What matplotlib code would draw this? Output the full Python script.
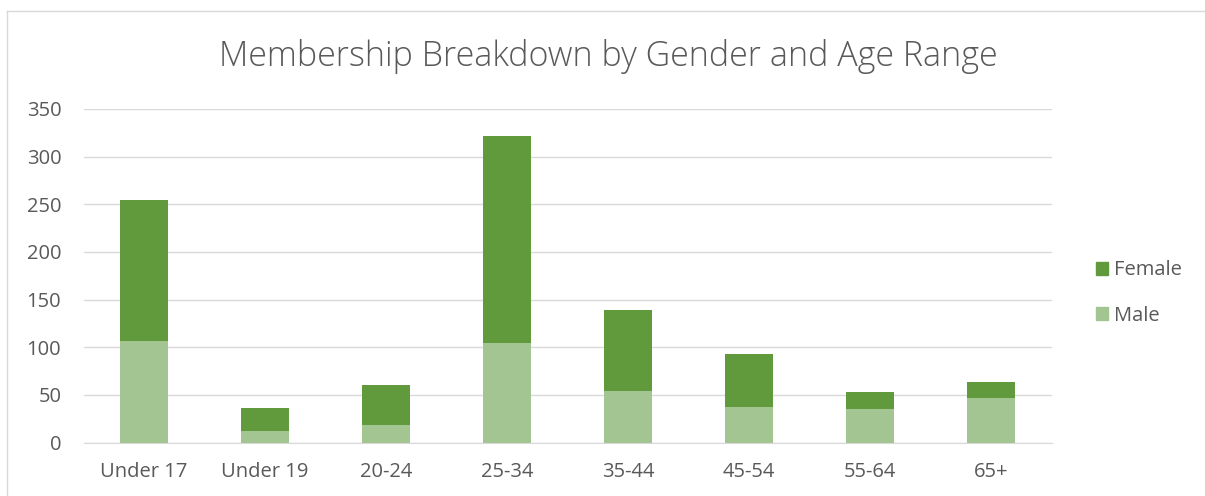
import matplotlib.pyplot as plt
import numpy as np
from matplotlib.patches import Rectangle
from matplotlib.lines import Line2D

# Datos
age_ranges = ["Under 17", "Under 19", "20-24", "25-34", "35-44", "45-54", "55-64", "65+"]
male = [107, 12, 18, 104, 54, 37, 35, 47]
female = [148, 24, 42, 218, 85, 56, 18, 16]

FEMALE_COL = "#619A3D"
MALE_COL = "#A3C591"
TXT = "#595959"

plt.rcParams["font.family"] = ["Open Sans", "DejaVu Sans"]

fig = plt.figure(figsize=(12.05, 4.96), dpi=100)
ax = fig.add_axes([83.5 / 1205, 1 - 442.5 / 496, (1051.5 - 83.5) / 1205, (442.5 - 109) / 496])

x = np.arange(len(age_ranges))
ax.bar(x, male, width=0.4, color=MALE_COL, label="Male", zorder=3)
ax.bar(x, female, width=0.4, bottom=male, color=FEMALE_COL, label="Female", zorder=3)

ax.set_xlim(-0.5, len(age_ranges) - 0.5)
ax.set_ylim(0, 350)
ax.set_yticks(range(0, 351, 50))
ax.set_xticks(x)
ax.set_xticklabels(age_ranges)
ax.grid(axis="y", color="#D9D9D9", linewidth=1, zorder=0)
for s in ["top", "right", "left"]:
    ax.spines[s].set_visible(False)
ax.spines["bottom"].set_color("#D9D9D9")
ax.tick_params(length=0, labelsize=14.5, colors=TXT)
ax.tick_params(axis="y", pad=16)
ax.tick_params(axis="x", pad=14)

fig.text(608 / 1205, 1 - 56 / 496, "Membership Breakdown by Gender and Age Range",
         ha="center", va="center", fontsize=24.5, color=TXT, fontweight="light")

# Leyenda
handles = [Rectangle((0, 0), 1, 1, color=FEMALE_COL), Rectangle((0, 0), 1, 1, color=MALE_COL)]
fig.legend(handles, ["Female", "Male"], loc="center left",
           bbox_to_anchor=(1078 / 1205, 1 - 293 / 496), frameon=False,
           fontsize=14.5, labelcolor=TXT, handlelength=0.6, handleheight=0.6,
           handletextpad=0.3, labelspacing=1.25)

# Borde del gráfico
fig.add_artist(Line2D([7 / 1205, 7 / 1205], [0, 1 - 10.5 / 496], transform=fig.transFigure,
                      color="#D9D9D9", linewidth=1))
fig.add_artist(Line2D([7 / 1205, 1], [1 - 10.5 / 496, 1 - 10.5 / 496], transform=fig.transFigure,
                      color="#D9D9D9", linewidth=1))

fig.savefig("out.png", dpi=100)
